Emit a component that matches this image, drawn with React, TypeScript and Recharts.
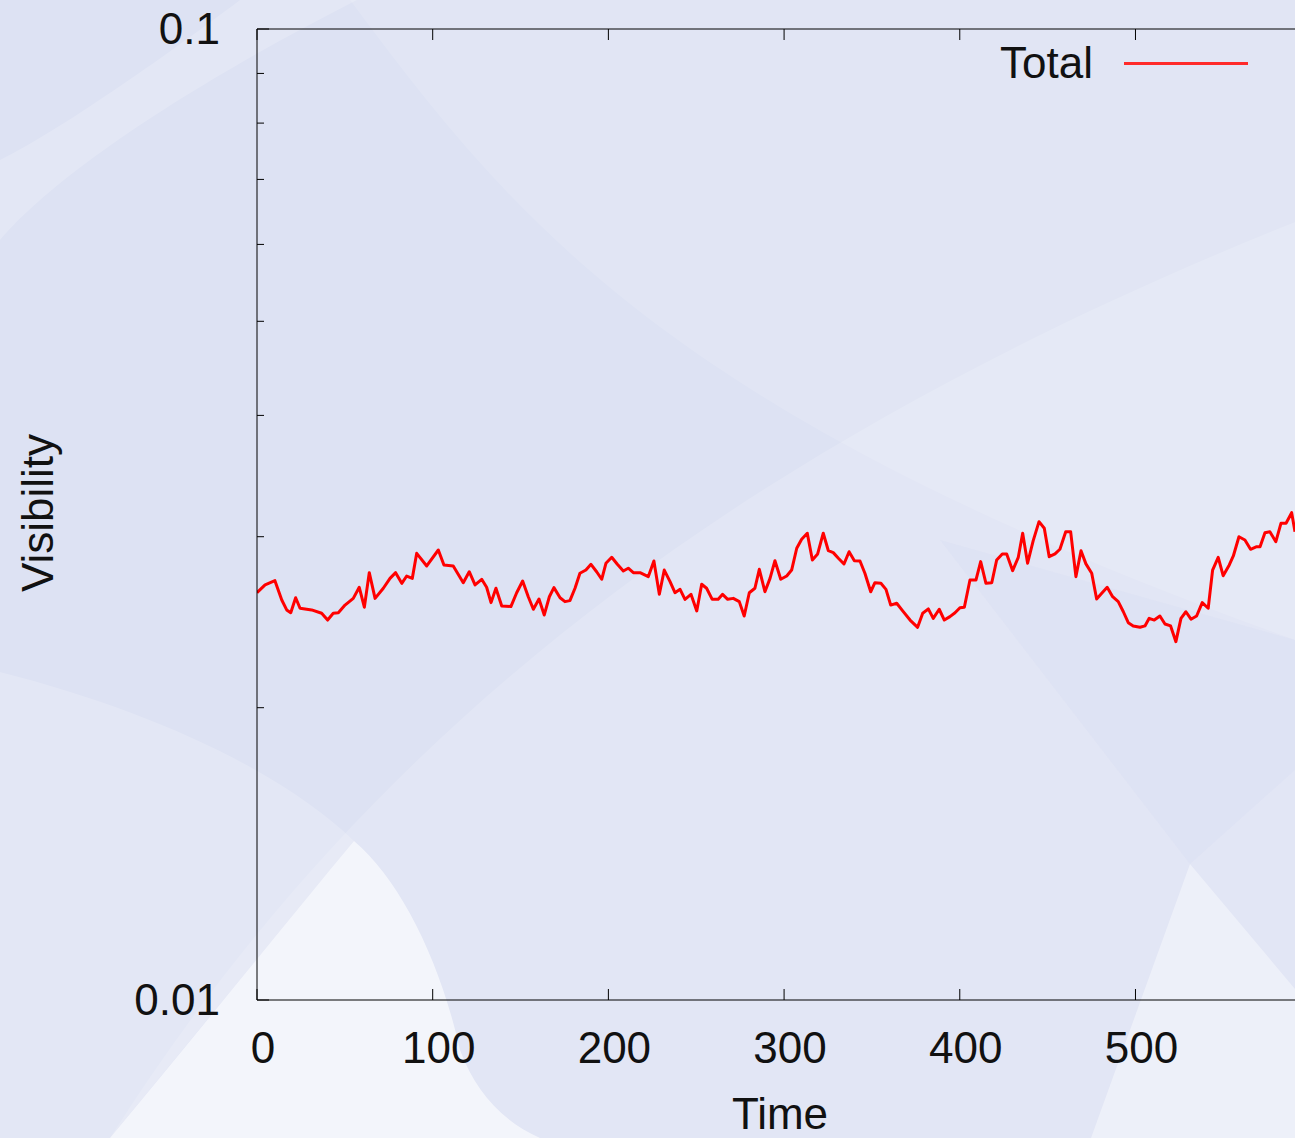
import React from 'react';
import { LineChart, Line, XAxis, YAxis, Legend } from 'recharts';

const times = [
  0, 4.6, 10.2, 14.1, 16.9, 19.2, 22.0, 24.5, 31.1, 36.8, 40.2, 43.4, 46.3, 50.1, 54.8, 58.2, 61.1, 63.9, 67.2, 71.9,
  75.7, 78.9, 82.4, 85.2, 88.4, 90.9, 96.6, 103.2, 106.4, 111.7, 117.4, 120.8, 124.1, 127.9, 130.7, 133.2, 136.0, 139.3, 144.5, 147.8,
  151.2, 154.4, 157.3, 160.5, 163.5, 166.4, 169.0, 172.5, 175.3, 178.1, 181.0, 183.8, 187.2, 190.1, 193.3, 196.2, 198.6, 201.9, 205.1, 208.5,
  211.3, 214.2, 218.0, 222.7, 225.9, 229.0, 231.8, 235.1, 237.9, 240.8, 243.6, 247.0, 250.3, 253.1, 255.9, 259.1, 262.5, 265.0, 267.9, 271.1,
  274.5, 277.3, 280.2, 283.4, 285.9, 289.1, 292.0, 294.8, 298.1, 301.5, 304.3, 307.2, 310.0, 313.2, 316.1, 319.1, 322.3, 325.2, 328.0, 330.9,
  334.1, 337.0, 340.0, 343.2, 346.0, 349.3, 351.7, 355.1, 358.0, 360.7, 364.1, 367.5, 371.7, 376.0, 378.9, 382.1, 384.9, 388.3, 391.2, 394.4,
  397.3, 400.1, 402.6, 405.8, 409.2, 411.9, 414.9, 418.2, 421.0, 424.2, 426.7, 430.1, 433.3, 435.8, 438.6, 441.8, 445.1, 448.1, 450.9, 454.2,
  457.0, 460.3, 463.1, 466.1, 469.0, 471.8, 475.1, 477.9, 480.8, 483.9, 487.0, 490.2, 493.1, 495.9, 498.7, 502.6, 505.4, 507.8, 510.7, 513.9,
  516.8, 520.0, 523.0, 525.9, 528.7, 531.6, 534.8, 538.0, 541.4, 543.9, 547.1, 549.9, 553.4, 555.7, 558.9, 562.3, 565.5, 569.0, 570.9, 573.7,
  576.5, 579.9, 582.8, 585.7, 588.9, 590.8,
];

const visibility = [
  0.02627, 0.02676, 0.02703, 0.02582, 0.02522, 0.02505, 0.02596, 0.02532, 0.02522, 0.02502, 0.02462, 0.02502, 0.02505, 0.02551, 0.02592, 0.02661, 0.02538, 0.02755, 0.02592, 0.02655,
  0.02718, 0.02755, 0.02686, 0.02733, 0.02718, 0.02884, 0.02799, 0.02907, 0.02806, 0.02799, 0.0269, 0.02761, 0.02676, 0.02712, 0.02661, 0.02566, 0.02655, 0.02546, 0.02542, 0.02627,
  0.02701, 0.02602, 0.02526, 0.02588, 0.02492, 0.02602, 0.02659, 0.02596, 0.02572, 0.02578, 0.02655, 0.02751, 0.02772, 0.0281, 0.02761, 0.02712, 0.02817, 0.02857, 0.0281, 0.02766,
  0.02784, 0.02755, 0.02755, 0.02729, 0.02832, 0.02617, 0.02772, 0.02697, 0.02627, 0.02648, 0.02586, 0.02617, 0.02516, 0.0268, 0.02655, 0.02586, 0.02586, 0.02617, 0.02586, 0.02592,
  0.02572, 0.02486, 0.02627, 0.02655, 0.02777, 0.02633, 0.02718, 0.02834, 0.02712, 0.02733, 0.02772, 0.02919, 0.02982, 0.03025, 0.02839, 0.0288, 0.03025, 0.02902, 0.02889, 0.02851,
  0.02812, 0.02895, 0.02834, 0.02832, 0.02751, 0.02633, 0.0269, 0.02686, 0.02648, 0.02551, 0.02562, 0.02516, 0.02462, 0.0242, 0.02502, 0.02528, 0.02472, 0.02526, 0.02462, 0.02482,
  0.02505, 0.02535, 0.02538, 0.02707, 0.02707, 0.02828, 0.02686, 0.0269, 0.02839, 0.0288, 0.0288, 0.02768, 0.02857, 0.03025, 0.02817, 0.02972, 0.03109, 0.03061, 0.02861, 0.0288,
  0.02912, 0.03036, 0.03036, 0.02729, 0.02902, 0.02813, 0.02751, 0.02588, 0.02623, 0.02661, 0.02602, 0.02572, 0.02511, 0.02447, 0.02428, 0.0242, 0.02428, 0.02472, 0.02462, 0.02486,
  0.02439, 0.02428, 0.02339, 0.02472, 0.02511, 0.02467, 0.02486, 0.02566, 0.02532, 0.02772, 0.02857, 0.02735, 0.02806, 0.02866, 0.03, 0.02977, 0.02912, 0.0293, 0.0293, 0.03029,
  0.03036, 0.02965, 0.03097, 0.03097, 0.03176, 0.03036,
];

const xTicks = [0, 100, 200, 300, 400, 500];
const yTicks = [0.01, 0.02, 0.03, 0.04, 0.05, 0.06, 0.07, 0.08, 0.09, 0.1];
const yLabelTicks = [0.01, 0.1];
const seriesName = 'Total';
const xTitle = 'Time';
const yTitle = 'Visibility';

const data = times.map((t, i) => ({ t, v: visibility[i] }));

const FONT = '"Liberation Sans", Arial, Helvetica, sans-serif';
const FS = 44;

const BottomTick = (props: any) => {
  const { x, y, payload } = props;
  return (
    <g>
      <line x1={x} y1={y} x2={x} y2={y - 11} stroke="#000" strokeWidth={1} />
      <text x={x + 6} y={y + 63} textAnchor="middle" fontFamily={FONT} fontSize={FS} fill="#111">
        {payload.value}
      </text>
    </g>
  );
};

const TopTick = (props: any) => {
  const { x, y } = props;
  return <line x1={x} y1={y} x2={x} y2={y + 11} stroke="#000" strokeWidth={1} />;
};

const LeftTick = (props: any) => {
  const { x, y, payload } = props;
  const v = payload.value;
  const isLabel = yLabelTicks.some((l) => Math.abs(l - v) < 1e-9);
  return (
    <g>
      <line x1={x} y1={y} x2={x + (isLabel ? 12 : 7)} y2={y} stroke="#000" strokeWidth={1} />
      {isLabel ? (
        <text x={220} y={y + 15} textAnchor="end" fontFamily={FONT} fontSize={FS} fill="#111">
          {String(v)}
        </text>
      ) : null}
    </g>
  );
};

const renderLegend = () => (
  <svg width={300} height={60} style={{ display: 'block' }}>
    <text x={113} y={48} textAnchor="end" fontFamily={FONT} fontSize={FS} fill="#111">
      {seriesName}
    </text>
    <line x1={144} y1={33.5} x2={268} y2={33.5} stroke="#ff2a2a" strokeWidth={2.8} />
  </svg>
);

const Background = () => (
  <svg width={1295} height={1138} style={{ position: 'absolute', left: 0, top: 0 }}>
    <rect x={0} y={0} width={1295} height={1138} fill="#dde2f3" />
    <path d="M0,240 C60,170 200,80 357,0 L240,0 C160,60 60,130 0,160 Z" fill="#ffffff" opacity={0.18} />
    <path d="M110,1138 C350,760 700,460 1295,222 L1295,1138 Z" fill="#ffffff" opacity={0.16} />
    <path d="M350,0 C520,230 680,420 1295,640 L1295,0 Z" fill="#ffffff" opacity={0.12} />
    <path d="M0,672 C150,710 280,770 354,841 L110,1138 L0,1138 Z" fill="#ffffff" opacity={0.18} />
    <path d="M354,841 C400,880 440,960 460,1050 C475,1090 500,1120 540,1138 L110,1138 C200,1030 280,930 354,841 Z" fill="#ffffff" opacity={0.6} />
    <path d="M940,540 L1190,864 L1295,770 L1295,640 Z" fill="#c9d0ec" opacity={0.12} />
    <path d="M1190,864 L1091,1138 L1295,1138 L1295,989 Z" fill="#ffffff" opacity={0.4} />
  </svg>
);

export default function App() {
  return (
    <div style={{ position: 'absolute', left: 0, top: 0, width: 1295, height: 1138, overflow: 'hidden' }}>
      <Background />
      <div style={{ position: 'absolute', left: 0, top: 0 }}>
        <LineChart width={1295} height={1138} data={data} margin={{ top: 0, right: 0, bottom: 0, left: 0 }}>
          <XAxis
            dataKey="t"
            type="number"
            domain={[0, 590.8]}
            allowDataOverflow
            ticks={xTicks}
            height={138}
            tickSize={0}
            tickMargin={0}
            tickLine={false}
            axisLine={{ stroke: '#000', strokeWidth: 1 }}
            tick={<BottomTick />}
            interval={0}
            label={() => (
              <text x={780} y={1129} textAnchor="middle" fontFamily={FONT} fontSize={FS} fill="#111">
                {xTitle}
              </text>
            )}
          />
          <XAxis
            xAxisId="top"
            dataKey="t"
            type="number"
            orientation="top"
            domain={[0, 590.8]}
            allowDataOverflow
            ticks={xTicks}
            height={29}
            tickSize={0}
            tickMargin={0}
            tickLine={false}
            axisLine={{ stroke: '#000', strokeWidth: 1 }}
            tick={<TopTick />}
            interval={0}
          />
          <YAxis
            dataKey="v"
            type="number"
            scale="log"
            domain={[0.01, 0.1]}
            allowDataOverflow
            ticks={yTicks}
            width={257}
            tickSize={0}
            tickMargin={0}
            tickLine={false}
            axisLine={{ stroke: '#000', strokeWidth: 1 }}
            tick={<LeftTick />}
            interval={0}
            label={() => (
              <text
                x={53}
                y={513}
                transform="rotate(-90 53 513)"
                textAnchor="middle"
                fontFamily={FONT}
                fontSize={FS}
                fill="#111"
              >
                {yTitle}
              </text>
            )}
          />
          <Legend
            verticalAlign="middle"
            layout="horizontal"
            content={renderLegend}
            wrapperStyle={{ position: 'absolute', left: 980, top: 30, width: 300, height: 60 }}
          />
          <Line
            type="linear"
            dataKey="v"
            name={seriesName}
            stroke="#ff0000"
            strokeWidth={3}
            strokeLinejoin="round"
            dot={false}
            isAnimationActive={false}
          />
        </LineChart>
      </div>
    </div>
  );
}
